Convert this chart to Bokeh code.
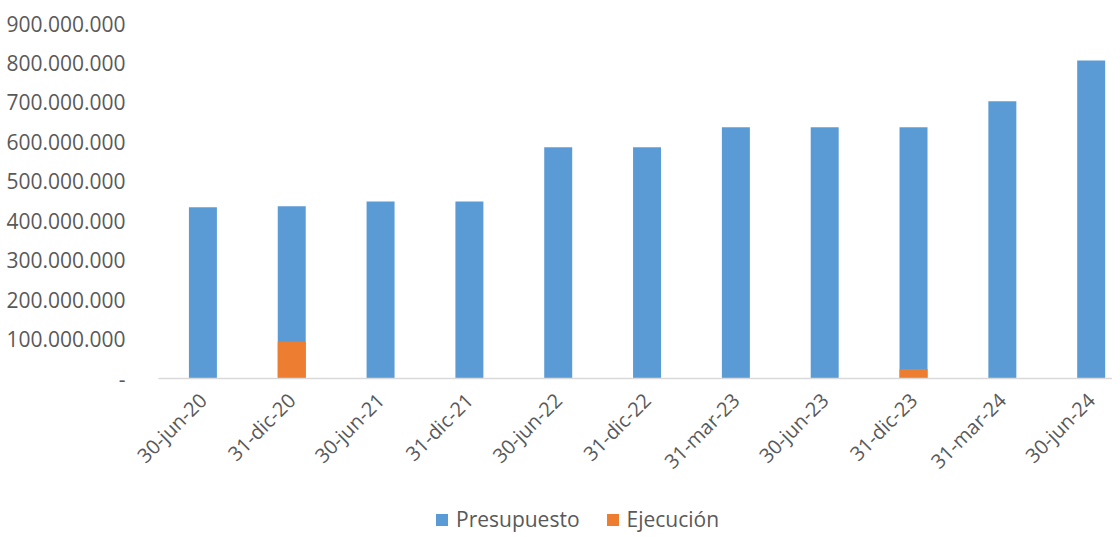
import math
from bokeh.plotting import figure
from bokeh.layouts import column
from bokeh.models import ColumnDataSource, Range1d, FixedTicker, Legend, LegendItem
from bokeh.embed import file_html
from bokeh.resources import INLINE

categories = ["30-jun-20", "31-dic-20", "30-jun-21", "31-dic-21", "30-jun-22", "31-dic-22",
              "31-mar-23", "30-jun-23", "31-dic-23", "31-mar-24", "30-jun-24"]
presupuesto = [434e6, 437e6, 449e6, 449e6, 586e6, 586e6, 637e6, 637e6, 637e6, 703e6, 806e6]
ejecucion = [0, 93e6, 0, 0, 0, 0, 0, 0, 24e6, 0, 0]
y_ticks = [0, 100e6, 200e6, 300e6, 400e6, 500e6, 600e6, 700e6, 800e6, 900e6]
y_tick_labels = ["-", "100.000.000", "200.000.000", "300.000.000", "400.000.000",
                 "500.000.000", "600.000.000", "700.000.000", "800.000.000", "900.000.000"]
series_names = ["Presupuesto", "Ejecución"]
series_colors = ["#5B9BD5", "#ED7D31"]

FONT = "Open Sans"
TXT = "#595959"

idx = list(range(len(categories)))
src = ColumnDataSource(dict(x=idx, pres=presupuesto, eje=ejecucion))

p = figure(width=1112, height=500, output_backend="svg", toolbar_location=None,
           x_range=Range1d(-0.5, 10.24), y_range=Range1d(0, 900e6),
           min_border_left=158, min_border_right=0, min_border_top=23, min_border_bottom=122)
p.outline_line_color = None
p.xgrid.visible = False
p.ygrid.visible = False

p.vbar(x="x", top="pres", width=0.315, source=src, fill_color=series_colors[0], line_color=None)
p.vbar(x="x", top="eje", width=0.315, source=src, fill_color=series_colors[1], line_color=None)

# x axis
p.xaxis.ticker = FixedTicker(ticks=idx)
p.xaxis.major_label_overrides = {i: c for i, c in zip(idx, categories)}
p.xaxis.major_label_orientation = math.pi / 4
p.xaxis.major_label_text_font = FONT
p.xaxis.major_label_text_font_size = "20px"
p.xaxis.major_label_text_color = TXT
p.xaxis.axis_line_color = "#D9D9D9"
p.xaxis.axis_line_width = 1.5
p.xaxis.major_tick_line_color = None
p.xaxis.minor_tick_line_color = None
p.xaxis.major_label_standoff = 12

# y axis
p.yaxis.ticker = FixedTicker(ticks=y_ticks)
p.yaxis.major_label_overrides = {t: l for t, l in zip(y_ticks, y_tick_labels)}
p.yaxis.major_label_text_font = FONT
p.yaxis.major_label_text_font_size = "21px"
p.yaxis.major_label_text_color = TXT
p.yaxis.axis_line_color = None
p.yaxis.major_tick_line_color = None
p.yaxis.minor_tick_line_color = None
p.yaxis.major_label_standoff = 27

# legend strip (frame aligned with the main plot's frame)
p2 = figure(width=1112, height=33, output_backend="svg", toolbar_location=None,
            x_range=Range1d(0, 1), y_range=Range1d(0, 1),
            x_axis_type=None, y_axis_type=None,
            min_border_left=0, min_border_right=0, min_border_top=0, min_border_bottom=0)
p2.outline_line_color = None
p2.xgrid.visible = False
p2.ygrid.visible = False
items = []
for name, col in zip(series_names, series_colors):
    r = p2.vbar(x=[5], top=[5], bottom=[4], width=0.1, fill_color=col, line_color=None)
    items.append(LegendItem(label=name, renderers=[r]))
legend = Legend(items=items, location=(276, 0), orientation="horizontal",
                glyph_width=15, glyph_height=15, label_standoff=7, spacing=25,
                padding=0, margin=0, border_line_color=None, background_fill_alpha=0,
                label_text_font=FONT, label_text_font_size="21px", label_text_color=TXT)
p2.add_layout(legend, "center")

layout = column(p, p2, spacing=0)
open("out.html", "w").write(file_html(layout, INLINE))
